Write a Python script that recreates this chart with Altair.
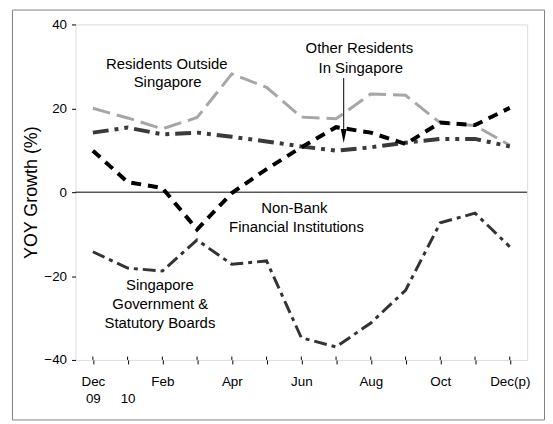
import json
import altair as alt
import pandas as pd

# ---- data ----
months = list(range(13))
tick_labels = ["Dec", "", "Feb", "", "Apr", "", "Jun", "", "Aug", "", "Oct", "", "   Dec(p)"]
year_labels = ["09  ", "10  ", "", "", "", "", "", "", "", "", "", "", ""]

outside = [20.0, 17.7, 15.1, 17.8, 28.2, 25.0, 17.9, 17.5, 23.4, 23.1, 16.5, 15.9, 11.2]
other = [14.2, 15.4, 13.8, 14.2, 13.2, 12.1, 10.9, 9.9, 10.7, 11.8, 12.7, 12.7, 10.9]
nonbank = [9.9, 2.4, 1.0, -8.9, -0.2, 5.5, 10.7, 15.5, 14.2, 11.5, 16.6, 16.0, 20.1]
gov = [-14.2, -18.1, -18.8, -11.4, -17.2, -16.4, -34.7, -36.9, -31.2, -23.4, -7.3, -5.0, -13.0]

y_ticks = [-40, -20, 0, 20, 40]

ann_text = ["Residents Outside", "Singapore", "Other Residents", "In Singapore",
            "Non-Bank", "Financial Institutions", "Singapore", "Government &",
            "Statutory Boards"]
ann_x = [2.13, 2.15, 7.67, 7.71, 5.8, 5.86, 1.93, 1.94, 1.93]
ann_y = [30.5, 26.2, 34.3, 29.6, -3.9, -8.3, -22.1, -26.6, -31.1]

arrow_x = [7.22]
arrow_top = [27.2]
arrow_bottom = [14.5]
arrow_head = [13.4]

# ---- tables ----
df = pd.DataFrame({"month": months, "outside": outside, "other": other,
                   "nonbank": nonbank, "gov": gov})
ann_df = pd.DataFrame({"text": ann_text, "x": ann_x, "y": ann_y})
arrow_df = pd.DataFrame({"x": arrow_x, "y": arrow_top, "y2": arrow_bottom, "h": arrow_head})
ticks_df = pd.DataFrame({"month": months})
zero_df = pd.DataFrame({"v": [0]})
frame_df = pd.DataFrame({"a": [0]})

label_pairs = [[a, b] for a, b in zip(tick_labels, year_labels)]
label_expr = json.dumps(label_pairs) + "[round(datum.value)]"

FONT = "Liberation Sans"

xscale = alt.Scale(domain=[-0.5, 12.5], nice=False, zero=False)
yscale = alt.Scale(domain=[-40, 40], nice=False, zero=False)

x_axis = alt.Axis(values=months, labelExpr=label_expr, title=None, tickSize=4,
                  labelPadding=11, labelLineHeight=17, labelFontSize=13.5,
                  labelColor="black", tickColor="black", domain=False, grid=False,
                  labelOverlap=False, labelBound=False, labelFlush=False,
                  labelFont=FONT)
y_axis = alt.Axis(values=y_ticks, title="YOY Growth (%)", tickSize=4, labelPadding=5,
                  labelFontSize=13.5, labelColor="black", tickColor="black",
                  domain=False, grid=False, titleFontSize=18, titleFontWeight="normal",
                  titleColor="black", titleX=-35, titleY=169, labelFont=FONT,
                  titleFont=FONT)


def series(col, color, dash, width):
    return alt.Chart(df).mark_line(color=color, strokeDash=dash, strokeWidth=width,
                                   strokeCap="butt").encode(
        x=alt.X("month:Q", scale=xscale, axis=x_axis),
        y=alt.Y(f"{col}:Q", scale=yscale, axis=y_axis),
    )


zero = alt.Chart(zero_df).mark_rule(color="black", strokeWidth=1).encode(
    y=alt.Y("v:Q", scale=yscale, axis=y_axis))

up_ticks = alt.Chart(ticks_df).mark_rule(color="black", strokeWidth=1).encode(
    x=alt.X("month:Q", scale=xscale, axis=x_axis),
    y=alt.datum(-40), y2=alt.datum(-39.2))

l_out = series("outside", "#a6a6a6", [18, 7], 3)
l_other = series("other", "#3a3a3a", [16, 6, 4, 6, 4, 6], 4)
l_nb = series("nonbank", "#000000", [10, 7], 4)
l_gov = series("gov", "#333333", [13, 5, 4, 5], 3)

ann = alt.Chart(ann_df).mark_text(fontSize=15, font=FONT, color="black",
                                  baseline="middle", align="center").encode(
    x=alt.X("x:Q", scale=xscale, axis=x_axis),
    y=alt.Y("y:Q", scale=yscale, axis=y_axis),
    text="text:N")

arrow_line = alt.Chart(arrow_df).mark_rule(color="black", strokeWidth=1).encode(
    x=alt.X("x:Q", scale=xscale, axis=x_axis),
    y=alt.Y("y:Q", scale=yscale, axis=y_axis), y2="y2:Q")

arrow_tip = alt.Chart(arrow_df).mark_point(
    shape="M-0.42,-1L0.42,-1L0,1Z", filled=True, color="black", size=196, opacity=1,
    strokeWidth=0).encode(
    x=alt.X("x:Q", scale=xscale, axis=x_axis),
    y=alt.Y("h:Q", scale=yscale, axis=y_axis))

frame = alt.Chart(frame_df).mark_rect(fillOpacity=0, stroke="#808080",
                                      strokeWidth=1).encode(
    x=alt.value(-63.5), x2=alt.value(472.5), y=alt.value(-14.5), y2=alt.value(398.5))

chart = alt.layer(frame, zero, up_ticks, l_out, l_other, l_nb, l_gov, ann,
                  arrow_line, arrow_tip).properties(
    width=455, height=338,
    autosize=alt.AutoSizeParams(type="none"),
    padding={"left": 68, "top": 15, "right": 18, "bottom": 63},
).configure_view(stroke="black", strokeWidth=1).configure(
    font=FONT, background="white")

chart.save("out.html", embed_options={"renderer": "svg", "actions": False})
